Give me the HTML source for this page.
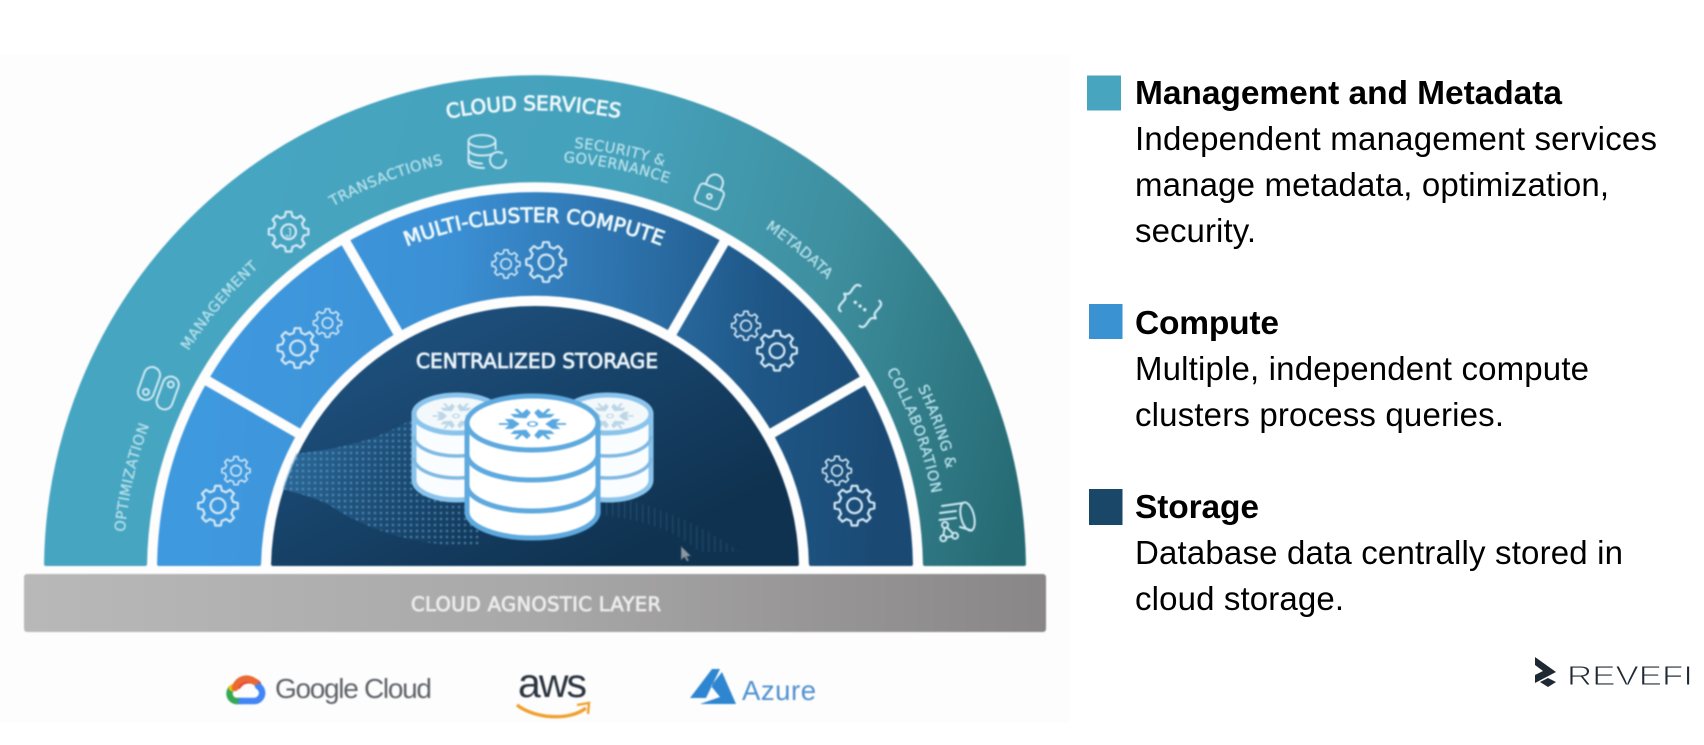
<!DOCTYPE html>
<html><head><meta charset="utf-8"><style>
html,body{margin:0;padding:0;background:#fff}
body{width:1704px;height:745px;overflow:hidden;position:relative;font-family:"Liberation Sans",sans-serif}
svg{position:absolute;left:0;top:0}
.bg{position:absolute;left:0;top:55px;width:1070px;height:668px;background:#fdfdfd}
.sub{font:14.5px "DejaVu Sans",sans-serif;fill:#b4dfe9;stroke:#b4dfe9;stroke-width:.35;letter-spacing:.5px;text-anchor:middle}
.main{font:20px "DejaVu Sans",sans-serif;fill:#eef8fb;stroke:#eef8fb;stroke-width:.8;text-anchor:middle}
.ic{fill:none;stroke:#cfe9f2;stroke-width:2;stroke-linecap:round;stroke-linejoin:round}
.g{fill:none;stroke:#d5e9f5;stroke-linejoin:round}
.t{font:33px "Liberation Sans",sans-serif;fill:#000}
.b{font:bold 33.5px "Liberation Sans",sans-serif;fill:#000}
</style></head><body>
<div class="bg"></div>
<svg width="1704" height="745" viewBox="0 0 1704 745" style="filter:blur(.7px)">
<defs>
<linearGradient id="gO" gradientUnits="userSpaceOnUse" x1="180" y1="300" x2="1010" y2="520">
<stop offset="0" stop-color="#46a5c1"/><stop offset=".45" stop-color="#45a1bb"/><stop offset=".72" stop-color="#3e8f9f"/><stop offset="1" stop-color="#266b74"/></linearGradient>
<linearGradient id="gC" gradientUnits="userSpaceOnUse" x1="200" y1="400" x2="880" y2="440">
<stop offset="0" stop-color="#3f99df"/><stop offset=".35" stop-color="#3b90d5"/><stop offset=".62" stop-color="#2c70a9"/><stop offset=".82" stop-color="#1e5686"/><stop offset="1" stop-color="#1a4a74"/></linearGradient>
<linearGradient id="gS" gradientUnits="userSpaceOnUse" x1="470" y1="300" x2="600" y2="566">
<stop offset="0" stop-color="#1d4f7c"/><stop offset="1" stop-color="#0f3250"/></linearGradient>
<linearGradient id="gB" x1="0" x2="1" y1="0" y2="0"><stop offset="0" stop-color="#b9b8b9"/><stop offset=".5" stop-color="#a9a8a9"/><stop offset="1" stop-color="#888687"/></linearGradient>
<linearGradient id="gW" gradientUnits="userSpaceOnUse" x1="280" y1="470" x2="470" y2="500"><stop offset="0" stop-color="#3f8cc0" stop-opacity=".5"/><stop offset=".6" stop-color="#2f6f9f" stop-opacity=".2"/><stop offset="1" stop-color="#2f6f9f" stop-opacity="0"/></linearGradient>
<pattern id="dots" width="6" height="6" patternUnits="userSpaceOnUse"><circle cx="3" cy="3" r="1.4" fill="#6aaede"/></pattern>
<pattern id="lines" width="6" height="4" patternUnits="userSpaceOnUse"><rect width="1.3" height="4" fill="#6aa9d4"/></pattern>
<clipPath id="cS"><path d="M271,566A264,264 0 0 1 799,566Z"/></clipPath>
<path id="r460" d="M75,570A460,460 0 0 1 995,570"/>
<path id="r416" d="M119,570A416,416 0 0 1 951,570"/>
<path id="r412" d="M123,570A412,412 0 0 1 947,570"/>
<path id="r410" d="M125,570A410,410 0 0 1 945,570"/>
<path id="r424" d="M111,570A424,424 0 0 1 959,570"/>
<path id="r409" d="M126,570A409,409 0 0 1 944,570"/>
<path id="r404" d="M131,570A404,404 0 0 1 939,570"/>
<path id="r348" d="M187,570A348,348 0 0 1 883,570"/>
<g id="gear"><polygon points="7.57,-1.89 9.9,-1.39 9.9,1.39 7.57,1.89 6.69,4.02 7.99,6.02 6.02,7.99 4.02,6.69 1.89,7.57 1.39,9.9 -1.39,9.9 -1.89,7.57 -4.02,6.69 -6.02,7.99 -7.99,6.02 -6.69,4.02 -7.57,1.89 -9.9,1.39 -9.9,-1.39 -7.57,-1.89 -6.69,-4.02 -7.99,-6.02 -6.02,-7.99 -4.02,-6.69 -1.89,-7.57 -1.39,-9.9 1.39,-9.9 1.89,-7.57 4.02,-6.69 6.02,-7.99 7.99,-6.02 6.69,-4.02" class="g" stroke-width="1.1"/><circle r="3.7" class="g" stroke-width="1.1"/></g>
<polygon id="arm" points="12,0 18,-8 24,-8 19.5,0 24,8 18,8"/>
<g id="flake">
<use href="#arm"/><use href="#arm" transform="rotate(60)"/><use href="#arm" transform="rotate(120)"/><use href="#arm" transform="rotate(180)"/><use href="#arm" transform="rotate(240)"/><use href="#arm" transform="rotate(300)"/>
<path d="M20,0H30M-20,0H-30M10,17.3L15,26M-10,17.3L-15,26M10,-17.3L15,-26M-10,-17.3L-15,-26" stroke-width="3" fill="none"/>
<circle r="4" fill="none" stroke-width="2"/></g>
</defs>

<!-- rings -->
<path d="M46.04,564A489,493 0 0 1 1023.96,564L924.95,564A390,390 0 0 0 145.05,564Z" fill="url(#gO)" stroke="url(#gO)" stroke-width="4" stroke-linejoin="round"/>
<path d="M159.05,564A376,376 0 0 1 910.95,564L810.94,564A276,276 0 0 0 259.06,564Z" fill="url(#gC)" stroke="url(#gC)" stroke-width="4" stroke-linejoin="round"/>
<g stroke="#fdfdfd" stroke-width="10">
<line x1="301.2" y1="435" x2="201.6" y2="377.5"/><line x1="768.8" y1="435" x2="868.4" y2="377.5"/>
<line x1="400" y1="336.2" x2="342.5" y2="236.6"/><line x1="670" y1="336.2" x2="727.5" y2="236.6"/>
</g>
<path d="M273.07,564A262,262 0 0 1 796.93,564Z" fill="url(#gS)" stroke="url(#gS)" stroke-width="4" stroke-linejoin="round"/>

<!-- halftone -->
<g clip-path="url(#cS)">
<path d="M280,455C320,452 370,445 410,420L470,440L480,545C430,548 380,535 340,512C320,497 300,495 276,487Z" fill="url(#gW)"/>
<path d="M280,455C320,452 370,445 410,420L470,440L480,545C430,548 380,535 340,512C320,497 300,495 276,487Z" fill="url(#dots)" opacity=".5"/>
<path d="M600,495C650,500 710,530 740,552L700,552C680,535 650,520 600,515Z" fill="url(#lines)" opacity=".18"/>
</g>

<!-- grey layer -->
<rect x="24" y="574" width="1022" height="58" rx="3" fill="url(#gB)"/>

<!-- back DBs -->
<g stroke="#8ac4ec" stroke-width="5" fill="#fafdff">
<path d="M414,414V480A43,20 0 0 0 500,480V414Z"/>
<path d="M565,414V480A43,20 0 0 0 651,480V414Z"/>
<ellipse cx="457" cy="414" rx="43" ry="19" fill="#f3f8fb"/>
<ellipse cx="608" cy="414" rx="43" ry="19" fill="#f3f8fb"/>
<path d="M414,436A43,20 0 0 0 500,436M414,458A43,20 0 0 0 500,458M565,436A43,20 0 0 0 651,436M565,458A43,20 0 0 0 651,458" fill="none" stroke="#7fb9e2" stroke-width="3.5"/>
</g>
<use href="#flake" transform="translate(456,416) scale(.78,.48)" fill="#bcd6e6" stroke="#bcd6e6"/>
<use href="#flake" transform="translate(610,416) scale(.78,.48)" fill="#bcd6e6" stroke="#bcd6e6"/>
<!-- front DB -->
<g stroke="#5ea9de" stroke-width="5" fill="#fff">
<path d="M467,423V512A65.5,26 0 0 0 598,512V423Z"/>
<ellipse cx="532.5" cy="423" rx="65.5" ry="27"/>
<path d="M467,454A65.5,26 0 0 0 598,454M467,485A65.5,26 0 0 0 598,485" fill="none"/>
</g>
<use href="#flake" transform="translate(532.5,424) scale(1.12,.58)" fill="#5aa8e0" stroke="#5aa8e0"/>

<!-- gears -->
<use href="#gear" transform="translate(506,264) scale(1.42)"/>
<use href="#gear" transform="translate(546,262) scale(2)"/>
<use href="#gear" transform="translate(297.5,348) scale(2)"/>
<use href="#gear" transform="translate(327.5,323) scale(1.42)"/>
<use href="#gear" transform="translate(218,505.7) scale(2)"/>
<use href="#gear" transform="translate(236,470.7) scale(1.42)"/>
<use href="#gear" transform="translate(746,325.7) scale(1.45)"/>
<use href="#gear" transform="translate(777,350.7) scale(2)"/>
<use href="#gear" transform="translate(837,470.7) scale(1.45)"/>
<use href="#gear" transform="translate(854.5,505.7) scale(2)"/>
<use href="#gear" transform="translate(288.6,231.7) scale(2)"/>
<text x="288.6" y="237" text-anchor="middle" font-family="Liberation Sans" font-size="13" fill="#cfe9f2">J</text>

<!-- outer icons -->
<g class="ic">
<ellipse cx="482" cy="141" rx="13.5" ry="6"/>
<path d="M468.5,141V161C468.5,165 474,168 484,168M495.5,141V149M468.5,150C470,154 476,155.5 482,155.5C486,155.5 490,155 492,154M468.5,159C470,162 476,163.5 482,163.5"/>
<circle cx="498" cy="160" r="8" stroke-dasharray="42 8"/>
<g transform="translate(712,190) rotate(22)">
<rect x="-13" y="-3" width="26" height="20" rx="4"/>
<path d="M-8,-3V-8A8,8 0 0 1 8,-8V-3"/>
<circle cx="0" cy="7" r="2.4"/>
</g>
<g transform="translate(860,306) rotate(38)" stroke-width="2.3">
<path d="M-12,-16C-18,-16 -16,-9 -16,-5C-16,-2 -18,-1 -20,0C-18,1 -16,2 -16,5C-16,9 -18,16 -12,16"/>
<path d="M12,-16C18,-16 16,-9 16,-5C16,-2 18,-1 20,0C18,1 16,2 16,5C16,9 18,16 12,16"/>
<path d="M-6,0h.1M0,0h.1M6,0h.1" stroke-width="3.4"/>
</g>
<g transform="translate(149,383.5) rotate(20)"><rect x="-8" y="-17" width="16" height="34" rx="8"/><circle cx="0" cy="9" r="3"/></g>
<g transform="translate(167.7,393) rotate(20)"><rect x="-8" y="-17" width="16" height="34" rx="8"/><circle cx="0" cy="-9" r="3"/></g>
<ellipse cx="967.5" cy="516.5" rx="6.5" ry="14.5" transform="rotate(-14 967.5 516.5)"/>
<path d="M963,503L942,506M972,530.5L960,527M940,513L956,511M939.5,520L956,518"/>
<circle cx="945" cy="525" r="3"/><circle cx="943.3" cy="538.3" r="3"/><circle cx="955" cy="535.7" r="3"/>
<path d="M944.5,528L943.5,535M947,527.5L953,533.5M946,537.5L952.5,536"/>
</g>

<!-- curved labels -->
<text class="main"><textPath href="#r460" startOffset="49.9%">CLOUD SERVICES</textPath></text>
<text class="main"><textPath href="#r348" startOffset="49.9%">MULTI-CLUSTER COMPUTE</textPath></text>
<text class="sub"><textPath href="#r416" startOffset="38.4%">TRANSACTIONS</textPath></text>
<text class="sub"><textPath href="#r410" startOffset="22.2%">MANAGEMENT</textPath></text>
<text class="sub"><textPath href="#r412" startOffset="7.2%">OPTIMIZATION</textPath></text>
<text class="sub"><textPath href="#r412" startOffset="72%">METADATA</textPath></text>
<text class="sub"><textPath href="#r424" startOffset="56.4%">SECURITY &amp;</textPath></text>
<text class="sub"><textPath href="#r409" startOffset="56.4%">GOVERNANCE</textPath></text>
<text class="sub"><textPath href="#r424" startOffset="89.1%">SHARING &amp;</textPath></text>
<text class="sub" style="letter-spacing:.7px"><textPath href="#r404" startOffset="88.8%">COLLABORATION</textPath></text>

<text x="416" y="368" font-family="DejaVu Sans" font-size="20" stroke="#eaf3f8" stroke-width=".8" fill="#eaf3f8" textLength="242">CENTRALIZED STORAGE</text>
<text x="411" y="611" font-family="DejaVu Sans" font-size="19.5" stroke="#ecebec" stroke-width=".8" fill="#ecebec" textLength="250">CLOUD AGNOSTIC LAYER</text>

<!-- cursor -->
<path d="M681,546L681,560L684.5,557L687,561.5L689,560.5L686.8,556.5L691,556Z" fill="#8b98a3" stroke="#33475a" stroke-width=".7"/>

<!-- Google -->
<g fill="none" stroke-width="6.5" stroke-linecap="round">
<path d="M241,701H236A7.5,7.5 0 0 1 232,688" stroke="#34a853"/>
<path d="M232,688A8,8 0 0 1 238,686" stroke="#fbbc04"/>
<path d="M238,686A13,13 0 0 1 258,684" stroke="#ea4335"/>
<path d="M241,701H254A8,8 0 0 0 258,686" stroke="#4285f4"/>
<path d="M235,688A12,12 0 0 1 255,682" stroke="#ea6a35"/>
</g>
<text x="275" y="698" font-family="Liberation Sans" font-size="28" fill="#5f6368" textLength="157">Google Cloud</text>
<!-- aws -->
<text x="518" y="697" font-family="Liberation Sans" font-size="41" fill="#2b3440" textLength="69">aws</text>
<path d="M517,705C535,719 570,721 586,708" fill="none" stroke="#f0a030" stroke-width="3.4"/>
<path d="M577,705L589,703L588,714" fill="none" stroke="#f0a030" stroke-width="2.4"/>
<!-- Azure -->
<path d="M712,669L690,698H706L720,669ZM722,672L736,704H700L720,697L711,686Z" fill="#2f86d0"/>
<text x="742" y="700" font-family="Liberation Sans" font-size="27.5" fill="#4f90cf" textLength="74">Azure</text>
</svg>

<svg width="1704" height="745" viewBox="0 0 1704 745">
<rect x="1087" y="75.5" width="34" height="35" fill="#47a5c0"/>
<rect x="1089" y="304" width="33.5" height="35" fill="#3b92d2"/>
<rect x="1089" y="489" width="33.5" height="36" fill="#1a4767"/>
<text class="b" x="1135" y="104" textLength="427">Management and Metadata</text>
<text class="t" x="1135" y="150" textLength="522">Independent management services</text>
<text class="t" x="1135" y="196" textLength="474">manage metadata, optimization,</text>
<text class="t" x="1135" y="242" textLength="121">security.</text>
<text class="b" x="1135" y="334" textLength="144">Compute</text>
<text class="t" x="1135" y="380" textLength="454">Multiple, independent compute</text>
<text class="t" x="1135" y="426" textLength="369">clusters process queries.</text>
<text class="b" x="1135" y="518" textLength="124">Storage</text>
<text class="t" x="1135" y="564" textLength="488">Database data centrally stored in</text>
<text class="t" x="1135" y="610" textLength="209">cloud storage.</text>
<polygon points="1535,657 1556,672 1535,683 1535,675 1543,671 1535,665" fill="#1f2933"/>
<polygon points="1540,682 1548,678 1556,682 1548,687" fill="#1f2933"/>
<text x="1567" y="685" font-family="Liberation Sans" font-size="28" fill="#1f2933" stroke="#fff" stroke-width=".9" textLength="126" lengthAdjust="spacingAndGlyphs">REVEFI</text>
</svg>
</body></html>
